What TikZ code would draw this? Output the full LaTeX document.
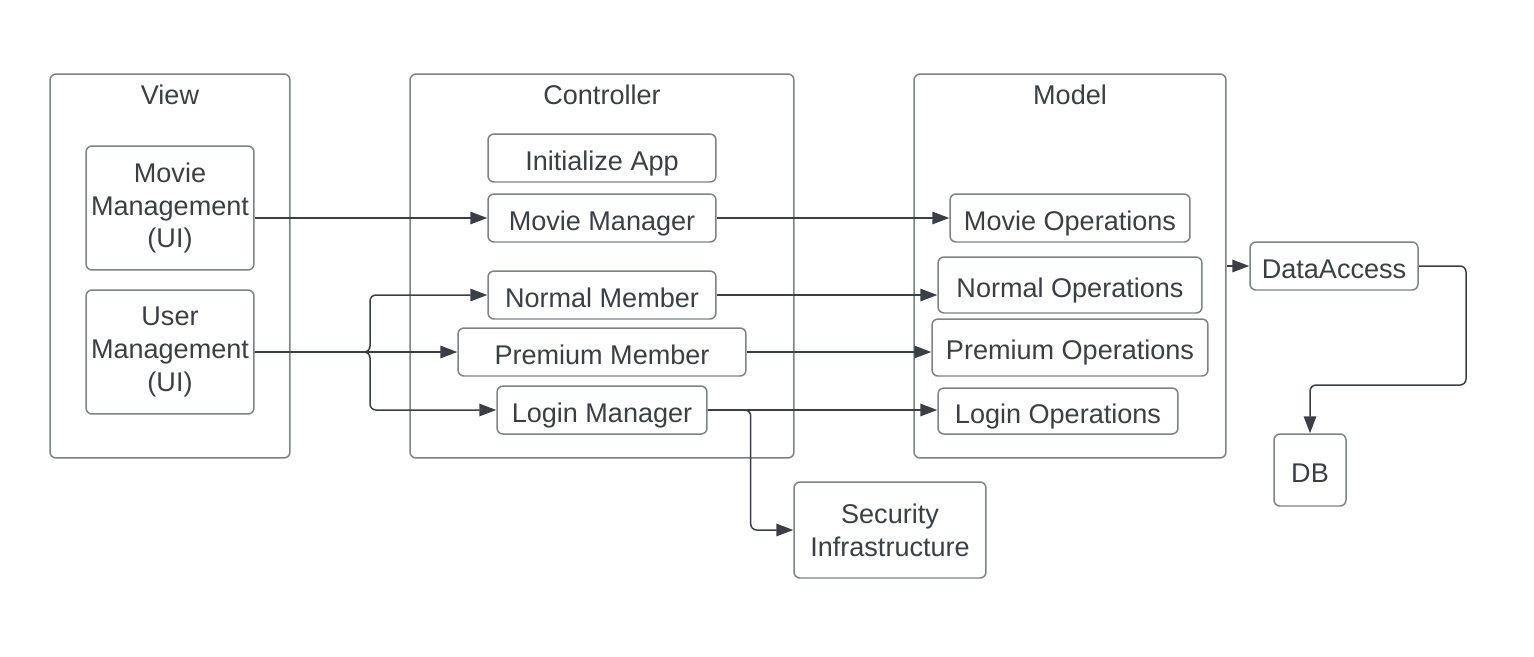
\documentclass[tikz,border=0pt]{standalone}
\usepackage{fontspec}
\setmainfont{Liberation Sans}
\usetikzlibrary{arrows.meta}
\definecolor{edge}{HTML}{7D8188}
\definecolor{ink}{HTML}{3A3F47}
\tikzset{
  box/.style={draw=edge, line width=0.85pt, rounded corners=0.12cm, text=ink,
    inner sep=0pt, font=\fontsize{15.4}{18.6}\selectfont},
  blk/.style={box, align=center},
  one/.style={box, text height=14pt, text depth=0pt},
  grp/.style={box},
  ttl/.style={text=ink, inner sep=0pt, font=\fontsize{15.4}{18.6}\selectfont},
  arr/.style={draw=ink, line width=0.85pt, rounded corners=0.12cm,
    -{Triangle[length=0.34cm,width=0.25cm]}}
}
\begin{document}
\begin{tikzpicture}[x=0.02cm,y=-0.02cm]
\useasboundingbox (0,0) rectangle (1534,656);
% containers
\node[grp, minimum width=4.8cm, minimum height=7.68cm] (view) at (170,266) {};
\node[grp, minimum width=7.68cm, minimum height=7.68cm] (ctrl) at (602,266) {};
\node[grp, minimum width=6.24cm, minimum height=7.68cm] (model) at (1070,266) {};
\node[ttl] (viewttl) at ([yshift=-0.44cm]view.north) {View};
\node[ttl] (ctrlttl) at ([yshift=-0.44cm]ctrl.north) {Controller};
\node[ttl] (modelttl) at ([yshift=-0.44cm]model.north) {Model};
% view
\node[blk, minimum width=3.36cm, minimum height=2.48cm] (mmui) at (170,208) {Movie\\Management\\(UI)};
\node[blk, minimum width=3.36cm, minimum height=2.48cm] (umui) at (170,352) {User\\Management\\(UI)};
% controller
\node[one, minimum width=4.56cm, minimum height=0.96cm] (init) at (602,158) {Initialize App};
\node[one, minimum width=4.56cm, minimum height=0.96cm] (mman) at (602,218) {Movie Manager};
\node[one, minimum width=4.56cm, minimum height=0.96cm] (nmem) at (602,295) {Normal Member};
\node[one, minimum width=5.76cm, minimum height=0.96cm] (pmem) at (602,352) {Premium Member};
\node[one, minimum width=4.2cm, minimum height=0.96cm] (lman) at (602,410) {Login Manager};
% model
\node[one, minimum width=4.8cm, minimum height=0.96cm] (mops) at (1070,218) {Movie Operations};
\node[one, minimum width=5.28cm, minimum height=1.12cm] (nops) at (1070,285) {Normal Operations};
\node[one, minimum width=5.52cm, minimum height=1.14cm] (pops) at (1070,347.5) {Premium Operations};
\node[one, minimum width=4.8cm, minimum height=0.92cm] (lops) at (1058,411) {Login Operations};
% outside
\node[one, minimum width=3.36cm, minimum height=0.96cm] (da) at (1334,266) {DataAccess};
\node[one, minimum width=1.44cm, minimum height=1.44cm] (db) at (1310,470) {DB};
\node[blk, minimum width=3.84cm, minimum height=1.92cm] (sec) at (890,530) {Security\\Infrastructure};
% connectors
\coordinate (split) at (370,352);
\draw[arr] (mmui.east |- mman.west) -- (mman.west);
\draw[arr] (umui.east) -- (split) |- (nmem.west);
\draw[arr] (umui.east) -- (pmem.west);
\draw[arr] (umui.east) -- (split) |- (lman.west);
\draw[arr] (mman.east) -- (mops.west);
\draw[arr] (nmem.east) -- (nmem.east -| nops.west);
\draw[arr] (pmem.east) -- (pmem.east -| pops.west);
\draw[arr] (lman.east) -- (lman.east -| lops.west);
\draw[arr] (lman.east) -- ++(43,0) |- (sec.west);
\draw[arr] (model.east |- da.west) -- (da.west);
\draw[arr] (da.east) -| (1466,385) -| (db.north);
\end{tikzpicture}
\end{document}
